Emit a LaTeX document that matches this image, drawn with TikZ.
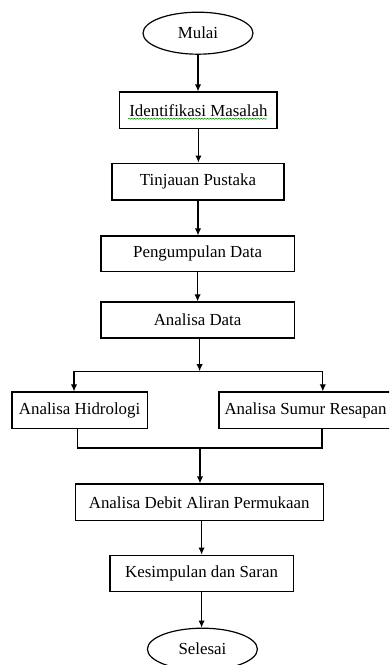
\documentclass[tikz,border=0pt]{standalone}
\usepackage{fontspec}
\setmainfont{Liberation Serif}
\usepackage{tikz}
\usetikzlibrary{shapes.geometric, arrows.meta, positioning, calc, decorations.pathmorphing}

\begin{document}
\begin{tikzpicture}[
    box/.style={rectangle, draw, line width=0.85pt, minimum height=0.92cm, align=center, inner sep=2pt, font=\fontsize{12}{14}\selectfont},
    term/.style={ellipse, draw, line width=0.85pt, minimum width=2.75cm, minimum height=1.05cm, inner sep=1pt, font=\fontsize{12}{14}\selectfont},
    ar/.style={-{Latex[length=5pt,width=4.5pt]}, line width=0.85pt},
    ln/.style={line width=0.85pt}]

\clip (0,0) rectangle (9.725,-16.625);

% Flow nodes
\node[term] (mulai) at (4.95,-0.83) {Mulai};
\node[box, minimum width=3.93cm] (idm) at (4.96,-2.76) {Identifikasi Masalah};
\node[box, minimum width=4.3cm] (tp) at (4.95,-4.54) {Tinjauan Pustaka};
\node[box, minimum width=4.83cm, minimum height=0.88cm] (pd) at (4.94,-6.34) {Pengumpulan Data};
\node[box, minimum width=4.83cm, minimum height=0.9cm] (ad) at (4.94,-8.0) {Analisa Data};
\node[box, minimum width=3.38cm] (ah) at (1.99,-10.26) {Analisa Hidrologi};
\node[box, minimum width=4.33cm] (asr) at (7.64,-10.26) {Analisa Sumur Resapan};
\node[box, minimum width=6.2cm] (adap) at (4.98,-12.56) {Analisa Debit Aliran Permukaan};
\node[box, minimum width=4.58cm, minimum height=0.9cm] (ks) at (5.04,-14.33) {Kesimpulan dan Saran};
\node[term] (sel) at (5.06,-16.23) {Selesai};

% Branch and join points
\coordinate (brL) at (1.85,-9.28);
\coordinate (brR) at (8.07,-9.28);
\coordinate (brM) at (4.99,-9.28);
\coordinate (jnL) at (1.93,-11.2);
\coordinate (jnR) at (8.05,-11.2);
\coordinate (jnM) at (5.0,-11.2);

% Arrows
\draw[ar] (mulai) -- (mulai |- idm.north);
\draw[ar] (idm) -- (idm |- tp.north);
\draw[ar] (tp) -- (tp |- pd.north);
\draw[ar] (pd) -- (pd |- ad.north);
\draw[ar] (ad.south -| brM) -- (brM);
\draw[ln] (brL) -- (brR);
\draw[ar] (brL) -- (brL |- ah.north);
\draw[ar] (brR) -- (brR |- asr.north);
\draw[ln] (jnL |- ah.south) -- (jnL) -- (jnR) -- (jnR |- asr.south);
\draw[ar] (jnM) -- (jnM |- adap.north);
\draw[ar] (adap.south -| ks) -- (ks);
\draw[ar] (ks) -- (ks |- sel.north);

% Spelling mark under the first box
\draw[green!55!black, line width=0.4pt, decorate, decoration={snake, amplitude=0.35pt, segment length=2pt}] (3.2,-2.97) -- (6.67,-2.97);

\end{tikzpicture}
\end{document}
